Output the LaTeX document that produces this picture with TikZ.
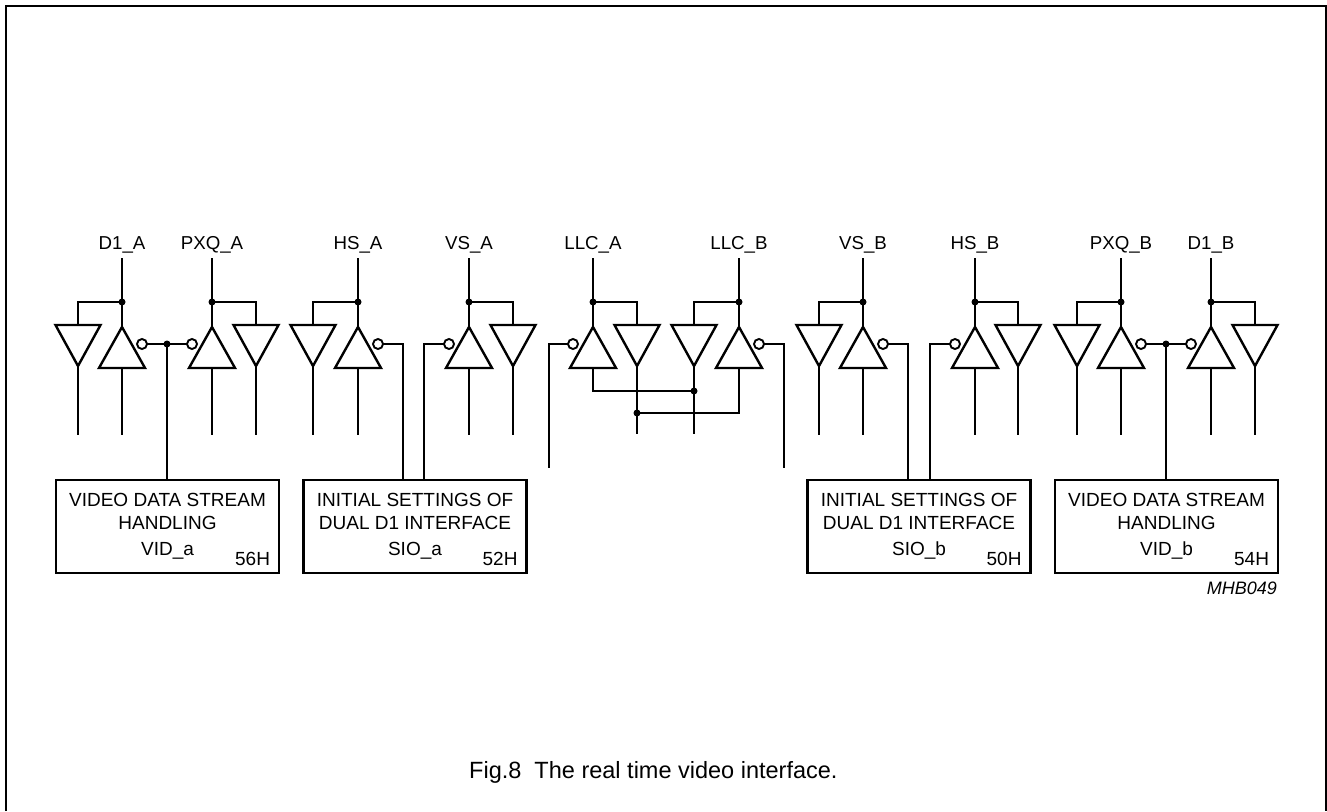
\documentclass[tikz,border=0pt]{standalone}
\usepackage{fontspec}
\setmainfont{Liberation Sans}
\usepackage{tikz}

\begin{document}
\begin{tikzpicture}[x=1pt,y=-1pt,
    buf/.style={line width=2.4pt, line join=miter},
    bub/.style={line width=1.9pt},
    wire/.style={line width=1.2pt},
    dot/.style={circle, fill, inner sep=0pt, minimum size=7pt},
    pin/.style={anchor=south, inner sep=4pt, text depth=4pt, font=\fontsize{18.7}{22}\selectfont},
    blk/.style={draw, line width=2.4pt, minimum width=223pt, minimum height=93pt},
    txt/.style={anchor=base, inner sep=0pt, font=\fontsize{19}{22}\selectfont},
    reg/.style={anchor=base east, inner sep=0pt, font=\fontsize{19}{22}\selectfont}]
    \useasboundingbox (0,0) rectangle (1327,811);
    \draw [line width=2pt] (6,811) -- (6,6) -- (1326,6) -- (1326,811);

    % buffers
    \foreach \x in {78,256,313,513,637,694,819,1018,1077,1255}
        \draw [buf] (\x-22.5,325) -- (\x+22.5,325) -- (\x,366) -- cycle;
    \foreach \x in {122,212,358,469,593,739,863,975,1121,1211}
        \draw [buf] (\x,327) -- (\x+23,368) -- (\x-23,368) -- cycle;
    \foreach \x in {142,378,759,883,1141}
        \draw [bub] (\x,344) circle (5);
    \foreach \x in {192,449,573,955,1191}
        \draw [bub] (\x,344) circle (5);

    % pins
    \foreach \d/\u/\n/\t in {78/122/d1a/D1\_A, 256/212/pxqa/PXQ\_A, 313/358/hsa/HS\_A,
        513/469/vsa/VS\_A, 637/593/llca/LLC\_A, 694/739/llcb/LLC\_B, 819/863/vsb/VS\_B,
        1018/975/hsb/HS\_B, 1077/1121/pxqb/PXQ\_B, 1255/1211/d1b/D1\_B} {
        \node [pin] (\n) at (\u,258) {\t};
        \node [dot] (j\n) at (\u,302) {};
        \draw [wire] (\n.south) -- (j\n.center) -- (\u,327);
        \draw [wire] (\d,325) |- (j\n.center);
    }
    \foreach \x in {78,256,313,513,819,1018,1077,1255}
        \draw [wire] (\x,366) -- (\x,435);
    \foreach \x in {122,212,358,469,863,975,1121,1211}
        \draw [wire] (\x,368) -- (\x,435);
    \draw [wire] (637,366) -- (637,434);
    \draw [wire] (694,366) -- (694,434);
    \node [dot] (xa) at (694,391) {};
    \node [dot] (xb) at (637,413) {};
    \draw [wire] (593,368) |- (xa.center);
    \draw [wire] (739,368) |- (xb.center);

    % blocks
    \node [blk] (vida) at (167.5,526.5) {};
    \node [blk] (sioa) at (415,526.5) {};
    \node [blk] (siob) at (919,526.5) {};
    \node [blk] (vidb) at (1166.5,526.5) {};

    \node [txt] (vida1) at ([yshift=19.8pt]vida.center) {VIDEO DATA STREAM};
    \node [txt] (vida2) at ([yshift=-2.5pt]vida.center) {HANDLING};
    \node [txt] (vida3) at ([yshift=-28.5pt]vida.center) {VID\_a};
    \node [reg] (vidar) at ([xshift=-10pt,yshift=-38.5pt]vida.east) {56H};
    \node [txt] (sioa1) at ([yshift=19.8pt]sioa.center) {INITIAL SETTINGS OF};
    \node [txt] (sioa2) at ([yshift=-2.5pt]sioa.center) {DUAL D1 INTERFACE};
    \node [txt] (sioa3) at ([yshift=-28.5pt]sioa.center) {SIO\_a};
    \node [reg] (sioar) at ([xshift=-10pt,yshift=-38.5pt]sioa.east) {52H};
    \node [txt] (siob1) at ([yshift=19.8pt]siob.center) {INITIAL SETTINGS OF};
    \node [txt] (siob2) at ([yshift=-2.5pt]siob.center) {DUAL D1 INTERFACE};
    \node [txt] (siob3) at ([yshift=-28.5pt]siob.center) {SIO\_b};
    \node [reg] (siobr) at ([xshift=-10pt,yshift=-38.5pt]siob.east) {50H};
    \node [txt] (vidb1) at ([yshift=19.8pt]vidb.center) {VIDEO DATA STREAM};
    \node [txt] (vidb2) at ([yshift=-2.5pt]vidb.center) {HANDLING};
    \node [txt] (vidb3) at ([yshift=-28.5pt]vidb.center) {VID\_b};
    \node [reg] (vidbr) at ([xshift=-10pt,yshift=-38.5pt]vidb.east) {54H};

    % bubble outputs
    \node [dot] (jvida) at (167,344) {};
    \draw [wire] (147,344) -- (187,344);
    \draw [wire] (jvida.center) -- (jvida |- vida.north);
    \draw [wire] (383,344) -| ([xshift=-12pt]sioa.north);
    \draw [wire] (444,344) -| ([xshift=9pt]sioa.north);
    \coordinate (llcaend) at (549,468);
    \coordinate (llcbend) at (784,468);
    \draw [wire] (568,344) -| (llcaend);
    \draw [wire] (764,344) -| (llcbend);
    \draw [wire] (888,344) -| ([xshift=-11pt]siob.north);
    \draw [wire] (950,344) -| ([xshift=11pt]siob.north);
    \node [dot] (jvidb) at (1166,344) {};
    \draw [wire] (1146,344) -- (1186,344);
    \draw [wire] (jvidb.center) -- (jvidb |- vidb.north);

    \node [anchor=base east, inner sep=0pt, font=\fontsize{18}{21}\selectfont\itshape] (mhb) at (1277,594) {MHB049};
    \node [anchor=base west, inner sep=0pt, font=\fontsize{23.5}{27}\selectfont] (cap) at (469,778) {Fig.8\ \ The real time video interface.};
\end{tikzpicture}
\end{document}
